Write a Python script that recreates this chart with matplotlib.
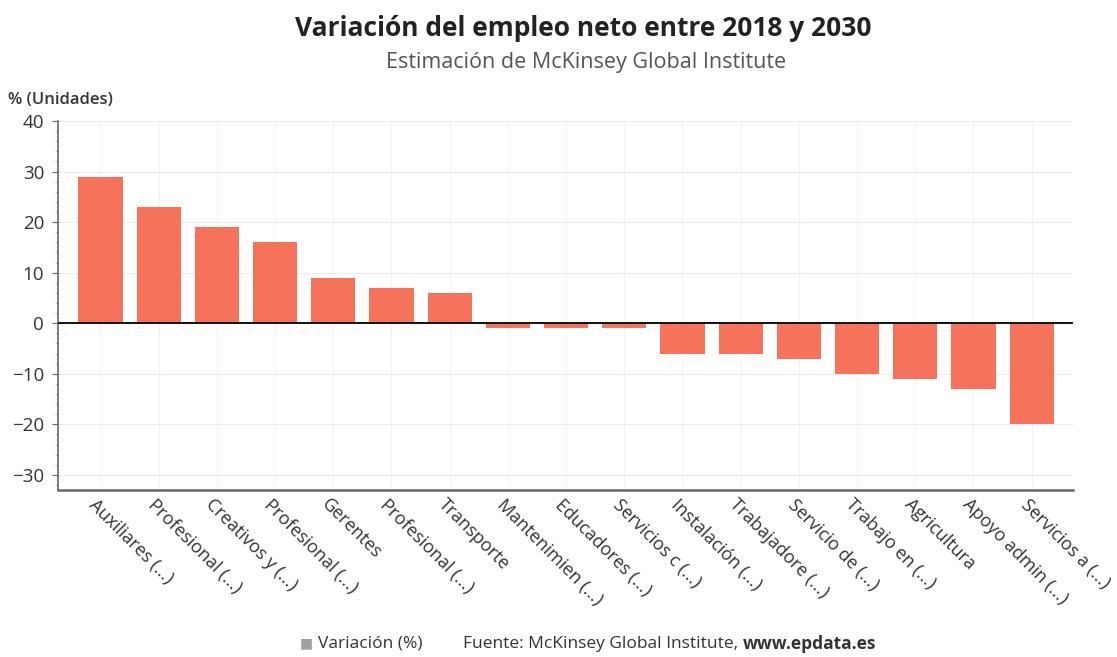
import matplotlib
matplotlib.use("Agg")
import matplotlib.pyplot as plt
from matplotlib.ticker import MultipleLocator
from matplotlib.transforms import ScaledTranslation

plt.rcParams['font.family'] = ['Open Sans', 'DejaVu Sans']

categories = [
    "Auxiliares (...)", "Profesional (...)", "Creativos y (...)", "Profesional (...)",
    "Gerentes", "Profesional (...)", "Transporte", "Mantenimien (...)",
    "Educadores (...)", "Servicios c (...)", "Instalación (...)", "Trabajadore (...)",
    "Servicio de (...)", "Trabajo en (...)", "Agricultura", "Apoyo admin (...)",
    "Servicios a (...)",
]
variacion = [29, 23, 19, 16, 9, 7, 6, -1, -1, -1, -6, -6, -7, -10, -11, -13, -20]
y_ticks = [-30, -20, -10, 0, 10, 20, 30, 40]

bar_color = "#F4735A"
text_dark = "#333333"

fig = plt.figure(figsize=(11.17, 6.57), dpi=100)
ax = fig.add_axes([0.0519, 0.2542, 0.9087, 0.5616])

x = list(range(len(categories)))
ax.bar(x, variacion, width=0.76, color=bar_color, zorder=3)

ax.set_xlim(-0.73, len(categories) - 1 + 0.71)
ax.set_ylim(-33, 40)
ax.set_yticks(y_ticks)
ax.yaxis.set_minor_locator(MultipleLocator(2))

ax.grid(True, axis='y', color="#EDEDED", linewidth=0.8, zorder=0)
ax.grid(True, axis='x', color="#F3F3F3", linewidth=0.8, zorder=0)
ax.axhline(0, color="#111111", linewidth=1.4, zorder=4)

for side in ("top", "right"):
    ax.spines[side].set_visible(False)
ax.spines["left"].set_color("#666666")
ax.spines["bottom"].set_color("#666666")
ax.spines["left"].set_linewidth(1.2)
ax.spines["bottom"].set_linewidth(1.8)

ax.tick_params(axis='y', which='major', length=4, width=0.8, color="#666666",
               labelsize=13.5, labelcolor=text_dark, pad=6)
ax.tick_params(axis='y', which='minor', length=2, width=0.5, color="#999999")
ax.tick_params(axis='x', length=0, pad=4)

ax.set_xticks(x)
ax.set_xticklabels(categories, rotation=-45, ha='left', va='top',
                   rotation_mode='anchor', fontsize=13, color=text_dark)
shift = ScaledTranslation(-0.02, 0, fig.dpi_scale_trans)
for lbl in ax.get_xticklabels():
    lbl.set_transform(lbl.get_transform() + shift)

fig.text(0.522, 0.957, "Variación del empleo neto entre 2018 y 2030",
         ha='center', va='center', fontsize=19, fontweight='bold', color="#222222")
fig.text(0.525, 0.905, "Estimación de McKinsey Global Institute",
         ha='center', va='center', fontsize=15.5, color="#555555")
fig.text(0.007, 0.848, "% (Unidades)", ha='left', va='center',
         fontsize=12, fontweight='semibold', color=text_dark)

# Footer: legend key and source
fy = 0.02
fig.text(0.268, fy, "■", ha='left', va='center', fontsize=10, color="#A0A0A0")
fig.text(0.2845, fy, "Variación (%)", ha='left', va='center', fontsize=12.5, color=text_dark)
src = fig.text(0.4145, fy, "Fuente: McKinsey Global Institute, ", ha='left', va='center',
               fontsize=12.5, color=text_dark)
fig.canvas.draw()
bb = src.get_window_extent(fig.canvas.get_renderer())
fig.text(bb.x1 / fig.bbox.width, fy, "www.epdata.es", ha='left', va='center',
         fontsize=12.5, fontweight='bold', color=text_dark)

fig.savefig("out.png", dpi=100, facecolor="white")
